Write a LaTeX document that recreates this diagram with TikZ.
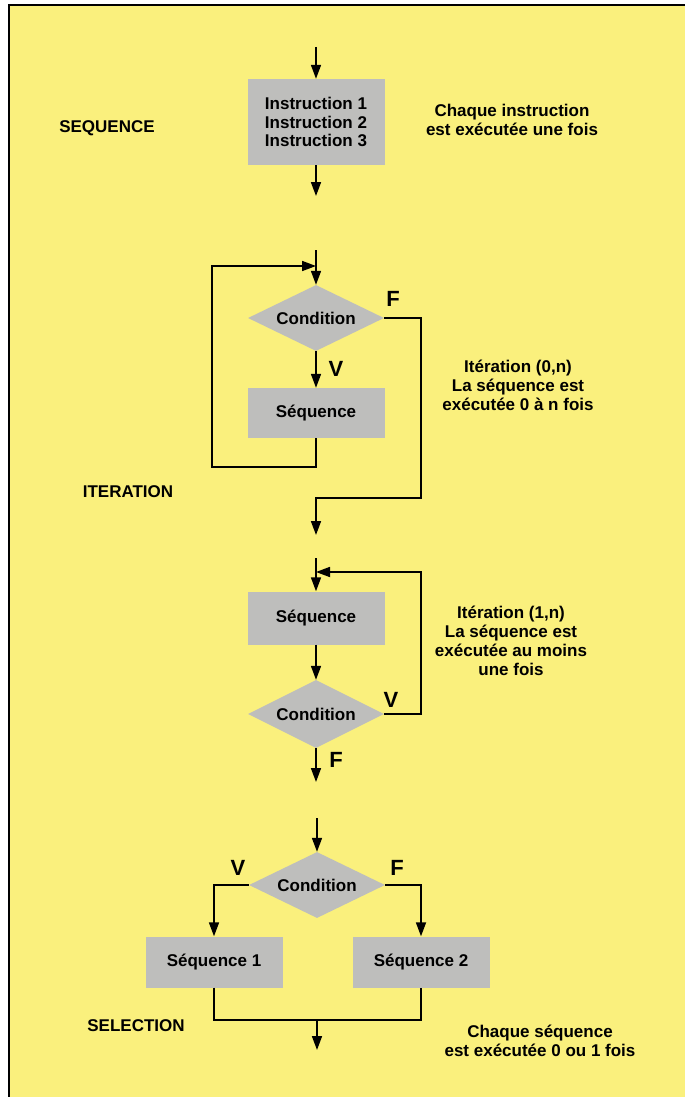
\documentclass[tikz,border=0pt]{standalone}
\usepackage{fontspec}
\setmainfont{Liberation Sans}
\usetikzlibrary{shapes.geometric,arrows.meta}
\definecolor{bgyellow}{RGB}{250,240,125}
\definecolor{boxgray}{RGB}{190,190,188}
\begin{document}
\begin{tikzpicture}[x=1pt,y=-1pt,
  font=\bfseries\fontsize{17}{18.6}\selectfont,
  procbox/.style={fill=boxgray,draw=none,minimum width=137pt,minimum height=51pt,inner sep=0pt,align=center},
  decbox/.style={diamond,fill=boxgray,draw=none,minimum width=136pt,minimum height=66pt,inner sep=0pt,aspect=2.06},
  conn/.style={line width=1.7pt,line join=miter},
  arr/.style={conn,-{Triangle[length=14pt,width=10pt]}},
  lbl/.style={align=center,inner sep=0pt,font=\bfseries\fontsize{17}{19}\selectfont},
  bigl/.style={inner sep=0pt,font=\bfseries\fontsize{22}{22}\selectfont}]
\useasboundingbox (0,0) rectangle (685,1097);
\fill[white] (0,0) rectangle (685,1097);
\fill[bgyellow] (9,5) rectangle (685,1097);
\draw[line width=2.4pt] (9,1097) -- (9,5) -- (685,5);

% SEQUENCE
\coordinate (s0) at (316,47);
\node[procbox,minimum height=86pt] (seq) at (316,122) {Instruction 1\\Instruction 2\\Instruction 3};
\coordinate (s1) at (316,196);
\draw[arr] (s0) -- (seq.north);
\draw[arr] (seq.south) -- (s1);
\node[lbl] (tseq) at (107,128) {SEQUENCE};
\node[lbl] (tseqd) at (512,120) {Chaque instruction\\est exécutée une fois};

% ITERATION (0,n)
\coordinate (a0) at (316,250);
\coordinate (aj) at (316,266);
\node[decbox] (c1) at (316,318) {Condition};
\node[procbox,minimum height=50pt] (q1) at (316,413) {Séquence};
\coordinate (al) at (212,266);
\coordinate (ab) at (212,467);
\coordinate (fr) at (421,318);
\coordinate (fb) at (421,498);
\coordinate (fm) at (316,498);
\coordinate (a1) at (316,535);
\draw[arr] (a0) -- (c1.north);
\draw[arr] (c1.south) -- (q1.north);
\draw[arr] (q1.south) |- (ab) -- (al) -- (aj);
\draw[arr] (c1.east) -- (fr) -- (fb) -- (fm) -- (a1);
\node[bigl] (lf1) at (393,299) {F};
\node[bigl] (lv1) at (336,369) {V};
\node[lbl] (tit) at (128,492) {ITERATION};
\node[lbl] (tit0) at (518,385) {Itération (0,n)\\La séquence est\\exécutée 0 à n fois};

% ITERATION (1,n)
\coordinate (b0) at (316,558);
\coordinate (bj) at (316,572);
\node[procbox,minimum height=53pt] (q2) at (316,618) {Séquence};
\node[decbox,minimum height=68pt] (c2) at (316,714) {Condition};
\coordinate (vr) at (421,714);
\coordinate (vt) at (421,572);
\coordinate (b1) at (316,782);
\draw[arr] (b0) -- (q2.north);
\draw[arr] (q2.south) -- (c2.north);
\draw[arr] (c2.east) -- (vr) -- (vt) -- (bj);
\draw[arr] (c2.south) -- (b1);
\node[bigl] (lv2) at (391,700) {V};
\node[bigl] (lf2) at (336,760) {F};
\node[lbl] (tit1) at (511,641) {Itération (1,n)\\La séquence est\\exécutée au moins\\une fois};

% SELECTION
\coordinate (c0) at (317,818);
\node[decbox] (c3) at (317,885) {Condition};
\node[procbox] (p1) at (214,962) {Séquence 1};
\node[procbox] (p2) at (421,962) {Séquence 2};
\coordinate (jl) at (214,1020);
\coordinate (jr) at (421,1020);
\coordinate (jm) at (317,1020);
\coordinate (c1e) at (317,1050);
\draw[arr] (c0) -- (c3.north);
\draw[arr] (c3.west) -| (p1.north);
\draw[arr] (c3.east) -| (p2.north);
\draw[conn] (p1.south) -- (jl) -- (jr) -- (p2.south);
\draw[arr] (jm) -- (c1e);
\node[bigl] (lv3) at (238,868) {V};
\node[bigl] (lf3) at (397,868) {F};
\node[lbl] (tsel) at (136,1026) {SELECTION};
\node[lbl] (tseld) at (540,1041) {Chaque séquence\\est exécutée 0 ou 1 fois};
\end{tikzpicture}
\end{document}
